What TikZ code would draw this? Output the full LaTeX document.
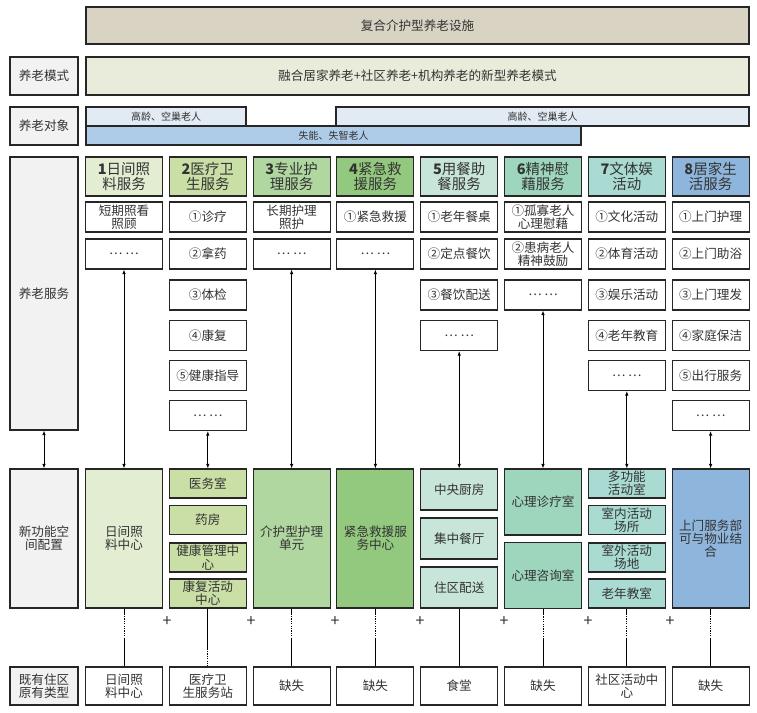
\documentclass[tikz,border=0pt]{standalone}
\usepackage{fontspec}
\setmainfont{Noto Sans CJK SC}
\usetikzlibrary{arrows.meta,positioning}

\definecolor{topbg}{HTML}{D9D3C3}
\definecolor{modebg}{HTML}{E9ECDA}
\definecolor{labelbg}{HTML}{F2F2F2}
\definecolor{oldbg}{HTML}{E2EAF3}
\definecolor{sickbg}{HTML}{AECBE7}
\definecolor{colA}{HTML}{E2EDD2}
\definecolor{colB}{HTML}{C9DFA6}
\definecolor{colC}{HTML}{B0D7A0}
\definecolor{colD}{HTML}{93C97E}
\definecolor{colE}{HTML}{C8E5D9}
\definecolor{colF}{HTML}{9DD5BD}
\definecolor{colG}{HTML}{A9DBD2}
\definecolor{colH}{HTML}{8EB6DC}
\definecolor{txt}{HTML}{333333}

\tikzset{
    box/.style={draw=black!85, line width=1.1pt, text=txt, inner sep=0.5pt, align=center,
        font=\fontsize{12.6}{13.2}\selectfont},
    lbl/.style={box, fill=labelbg, minimum width=68pt},
    head/.style={box, minimum width=77pt, minimum height=39pt, font=\fontsize{14.5}{15.5}\selectfont},
    item/.style={box, fill=white, minimum width=77pt, minimum height=30pt},
    room/.style={box, minimum width=77pt},
    small/.style={box, minimum height=19pt, font=\fontsize{10}{10.5}\selectfont},
    link/.style={line width=0.8pt, {Latex[length=4.5pt,width=3.5pt]}-{Latex[length=4.5pt,width=3.5pt]}},
    wire/.style={line width=0.8pt},
    dots/.style={wire, dash pattern=on 1.2pt off 1.2pt},
}

\begin{document}
\begin{tikzpicture}[x=1pt, y=-1pt]
    \useasboundingbox (0,0) rectangle (757,712);

    % left labels
    \node[lbl, minimum height=38pt]  (mode)    at (44,76)    {养老模式};
    \node[lbl, minimum height=38pt]  (target)  at (44,126)   {养老对象};
    \node[lbl, minimum height=273pt] (service) at (44,293.5) {养老服务};
    \node[lbl, minimum height=139pt] (space)   at (44,538.5) {新功能空\\间配置};
    \node[lbl, minimum height=38pt]  (exist)   at (44,686)   {既有住区\\原有类型};

    % top bands
    \node[box, fill=topbg, minimum width=663pt, minimum height=37pt] (facility) at (417.5,25.5) {复合介护型养老设施};
    \node[box, fill=modebg, minimum width=663pt, minimum height=38pt] (model) at (417.5,76)
        {融合居家养老+社区养老+机构养老的新型养老模式};
    \node[small, fill=oldbg, minimum width=160pt] (old1) at (166,116.5) {高龄、空巢老人};
    \node[small, fill=oldbg, minimum width=413pt] (old2) at (542.5,116.5) {高龄、空巢老人};
    \node[small, fill=sickbg, minimum width=495pt] (sick) at (333.5,135.5) {失能、失智老人};

    % service headers
    \foreach \i/\x/\c/\t in {1/124/colA/{\textbf{1}日间照\\料服务},
                             2/207.8/colB/{\textbf{2}医疗卫\\生服务},
                             3/291.6/colC/{\textbf{3}专业护\\理服务},
                             4/375.4/colD/{\textbf{4}紧急救\\援服务},
                             5/459.2/colE/{\textbf{5}用餐助\\餐服务},
                             6/543/colF/{\textbf{6}精神慰\\藉服务},
                             7/626.8/colG/{\textbf{7}文体娱\\活动},
                             8/710.6/colH/{\textbf{8}居家生\\活服务}}
        \node[head, fill=\c] (h\i) at (\x,176.5) {\t};

    % service items
    \foreach \j/\y/\t in {1/217/{短期照看\\照顾}, 2/254/{… …}}
        \node[item] (s1-\j) at (124,\y) {\t};
    \foreach \j/\y/\t in {1/217/{①诊疗}, 2/254/{②拿药}, 3/295/{③体检},
                          4/335.5/{④康复}, 5/375.5/{⑤健康指导}, 6/415.5/{… …}}
        \node[item] (s2-\j) at (207.8,\y) {\t};
    \foreach \j/\y/\t in {1/217/{长期护理\\照护}, 2/254/{… …}}
        \node[item] (s3-\j) at (291.6,\y) {\t};
    \foreach \j/\y/\t in {1/217/{①紧急救援}, 2/254/{… …}}
        \node[item] (s4-\j) at (375.4,\y) {\t};
    \foreach \j/\y/\t in {1/217/{①老年餐桌}, 2/254/{②定点餐饮}, 3/295/{③餐饮配送},
                          4/335.5/{… …}}
        \node[item] (s5-\j) at (459.2,\y) {\t};
    \foreach \j/\y/\t in {1/217/{①孤寡老人\\心理慰藉}, 2/254/{②患病老人\\精神鼓励}, 3/295/{… …}}
        \node[item] (s6-\j) at (543,\y) {\t};
    \foreach \j/\y/\t in {1/217/{①文化活动}, 2/254/{②体育活动}, 3/295/{③娱乐活动},
                          4/335.5/{④老年教育}, 5/375.5/{… …}}
        \node[item] (s7-\j) at (626.8,\y) {\t};
    \foreach \j/\y/\t in {1/217/{①上门护理}, 2/254/{②上门助浴}, 3/295/{③上门理发},
                          4/335.5/{④家庭保洁}, 5/375.5/{⑤出行服务}, 6/415.5/{… …}}
        \node[item] (s8-\j) at (710.6,\y) {\t};

    % new spaces
    \node[room, fill=colA, minimum height=139pt] (p1) at (124,538.5) {日间照\\料中心};
    \foreach \j/\y/\t in {1/483.5/{医务室}, 2/520/{药房}, 3/557.5/{健康管理中\\心}, 4/593.5/{康复活动\\中心}}
        \node[room, fill=colB, minimum height=29pt] (p2-\j) at (207.8,\y) {\t};
    \node[room, fill=colC, minimum height=139pt] (p3) at (291.6,538.5) {介护型护理\\单元};
    \node[room, fill=colD, minimum height=139pt] (p4) at (375.4,538.5) {紧急救援服\\务中心};
    \foreach \j/\y/\t in {1/489.5/{中央厨房}, 2/538.5/{集中餐厅}, 3/587.5/{住区配送}}
        \node[room, fill=colE, minimum height=41pt] (p5-\j) at (459.2,\y) {\t};
    \foreach \j/\y/\t in {1/502/{心理诊疗室}, 2/575.5/{心理咨询室}}
        \node[room, fill=colF, minimum height=66pt] (p6-\j) at (543,\y) {\t};
    \foreach \j/\y/\t in {1/483.5/{多功能\\活动室}, 2/520/{室内活动\\场所}, 3/557.5/{室外活动\\场地}, 4/593.5/{老年教室}}
        \node[room, fill=colG, minimum height=29pt] (p7-\j) at (626.8,\y) {\t};
    \node[room, fill=colH, minimum height=139pt] (p8) at (710.6,538.5) {上门服务部\\可与物业结\\合};

    % existing types
    \foreach \i/\x/\t in {1/124/{日间照\\料中心}, 2/207.8/{医疗卫\\生服务站}, 3/291.6/{缺失}, 4/375.4/{缺失},
                          5/459.2/{食堂}, 6/543/{缺失}, 7/626.8/{社区活动中\\心}, 8/710.6/{缺失}}
        \node[room, fill=white, minimum height=38pt] (e\i) at (\x,686) {\t};

    % plus signs
    \foreach \k/\x in {1/167, 2/251, 3/335, 4/420, 5/504, 6/588, 7/670}
        \node[text=txt, font=\fontsize{16}{16}\selectfont, inner sep=0pt] (plus\k) at (\x,622) {+};

    % service <-> space arrows
    \draw[link] (service) -- (space);
    \draw[link] (s1-2) -- (p1);
    \draw[link] (s2-6) -- (p2-1);
    \draw[link] (s3-2) -- (p3);
    \draw[link] (s4-2) -- (p4);
    \draw[link] (s5-4) -- (p5-1);
    \draw[link] (s6-3) -- (p6-1);
    \draw[link] (s7-5) -- (p7-1);
    \draw[link] (s8-6) -- (p8);

    % space -- existing
    \foreach \i/\q in {1/p1, 3/p3, 4/p4, 6/p6-2, 7/p7-4, 8/p8} {
        \path (\q.south) ++(0,5) coordinate (da\i) ++(0,24) coordinate (db\i);
        \draw[wire] (\q) -- (da\i);
        \draw[dots] (da\i) -- (db\i);
        \draw[wire] (db\i) -- (e\i);
    }
    \path (p2-4.south) ++(0,40) coordinate (da2);
    \draw[wire] (p2-4) -- (da2);
    \draw[dots] (da2) -- (e2);
    \draw[wire] (p5-3) -- (e5);
\end{tikzpicture}
\end{document}
